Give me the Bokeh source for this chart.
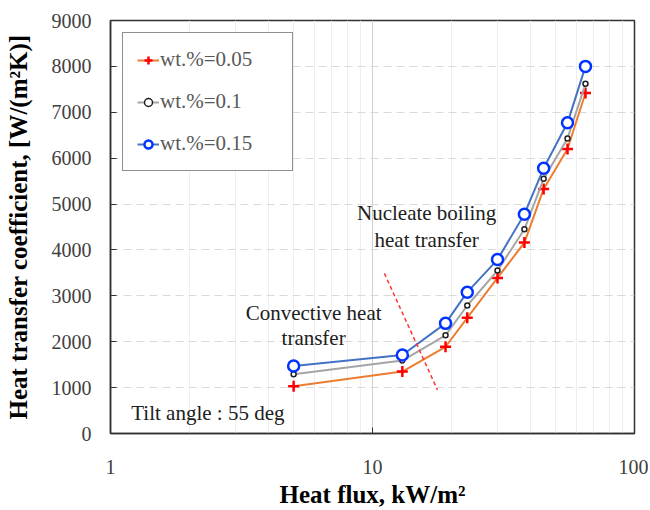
from bokeh.plotting import figure
from bokeh.models import Label, Legend, LegendItem, FixedTicker, Range1d
from bokeh.embed import file_html
from bokeh.resources import INLINE

# Data
heat_flux = [5.0, 13.0, 19.0, 23.0, 30.0, 38.0, 45.0, 55.5, 65.0]
htc_005 = [1030, 1350, 1890, 2520, 3390, 4160, 5330, 6200, 7420]
htc_010 = [1290, 1590, 2140, 2790, 3550, 4450, 5550, 6430, 7620]
htc_015 = [1470, 1710, 2400, 3080, 3790, 4780, 5780, 6770, 8000]
series_labels = ["wt.%=0.05", "wt.%=0.1", "wt.%=0.15"]
divider_x = [11.1, 17.7]
divider_y = [3490, 950]
x_ticks = [1, 10, 100]
x_minor = [2, 3, 4, 5, 6, 7, 8, 9, 20, 30, 40, 50, 60, 70, 80, 90]
y_ticks = [0, 1000, 2000, 3000, 4000, 5000, 6000, 7000, 8000, 9000]

SERIF = "Liberation Serif"

p = figure(width=648, height=510, x_axis_type="log",
           x_range=Range1d(1, 100), y_range=Range1d(0, 9000),
           output_backend="svg", toolbar_location=None,
           min_border_left=110, min_border_right=14, min_border_top=20, min_border_bottom=74)
p.outline_line_color = "#303030"
p.outline_line_width = 1.5
p.background_fill_color = "white"
p.border_fill_color = "white"

# axes
p.xaxis.ticker = FixedTicker(ticks=x_ticks, minor_ticks=x_minor)
p.yaxis.ticker = FixedTicker(ticks=y_ticks)
p.xaxis.major_label_overrides = {1: "1", 10: "10", 100: "100"}
for ax in (p.xaxis[0], p.yaxis[0]):
    ax.axis_line_color = "#303030"
    ax.axis_line_width = 1.5
    ax.major_tick_in = 6
    ax.major_tick_out = 0
    ax.minor_tick_in = 0
    ax.minor_tick_out = 0
    ax.major_tick_line_color = "#303030"
    ax.major_label_text_font = SERIF
    ax.major_label_text_font_size = "20px"
    ax.major_label_text_color = "#404040"
    ax.axis_label_text_font = SERIF
    ax.axis_label_text_font_style = "bold"
    ax.axis_label_text_font_size = "25px"
    ax.axis_label_text_color = "black"
p.xaxis.major_label_standoff = 26
p.yaxis.major_label_standoff = 19
p.xaxis.axis_label = "Heat flux, kW/m\u00b2"
p.yaxis.axis_label = "Heat transfer coefficient, [W/(m\u00b2K)]"
p.xaxis.axis_label_standoff = 4
p.yaxis.axis_label_standoff = 17

# grid
p.ygrid.grid_line_color = "#d9d9d9"
p.ygrid.grid_line_dash = "8 5"
p.ygrid.grid_line_width = 1
p.xgrid.grid_line_color = "#d0d0d0"
p.xgrid.minor_grid_line_color = "#eeeeee"

# series
l1 = p.line(heat_flux, htc_005, line_color="#ED7D31", line_width=2)
m1 = p.scatter(heat_flux, htc_005, marker="cross", size=11, line_color="#FF0000", line_width=2.5)
l2 = p.line(heat_flux, htc_010, line_color="#A5A5A5", line_width=2)
m2 = p.scatter(heat_flux, htc_010, marker="circle", size=5, line_color="#202020", fill_color="white", line_width=1.5)
l3 = p.line(heat_flux, htc_015, line_color="#4472C4", line_width=2)
m3 = p.scatter(heat_flux, htc_015, marker="circle", size=11, line_color="#0033FF", fill_color="white", line_width=2.5)

# divider
p.line(divider_x, divider_y, line_color="#FF3333", line_dash="4 3", line_width=1.5)

legend = Legend(items=[
    LegendItem(label=series_labels[0], renderers=[l1, m1]),
    LegendItem(label=series_labels[1], renderers=[l2, m2]),
    LegendItem(label=series_labels[2], renderers=[l3, m3]),
], location="top_left")
legend.border_line_color = "#202020"
legend.border_line_width = 1.5
legend.label_text_font = SERIF
legend.label_text_font_size = "21px"
legend.label_text_color = "#595959"
legend.glyph_width = 22
legend.glyph_height = 20
legend.label_standoff = 1
legend.label_width = 118
legend.label_height = 20
legend.spacing = 17
legend.padding = 14
legend.margin = 12
p.add_layout(legend)

annotations = [
    ("Nucleate boiling", 16.1, 4800),
    ("heat transfer", 16.1, 4220),
    ("Convective heat", 5.96, 2630),
    ("transfer", 5.96, 2090),
]
for txt, x, y in annotations:
    p.add_layout(Label(x=x, y=y, text=txt, text_align="center", text_baseline="middle",
                       text_font=SERIF, text_font_size="21px", text_color="#202020"))
p.add_layout(Label(x=1.2, y=450, text="Tilt angle : 55 deg", text_align="left", text_baseline="middle",
                   text_font=SERIF, text_font_size="21px", text_color="#202020"))

open("out.html", "w").write(file_html(p, INLINE))
